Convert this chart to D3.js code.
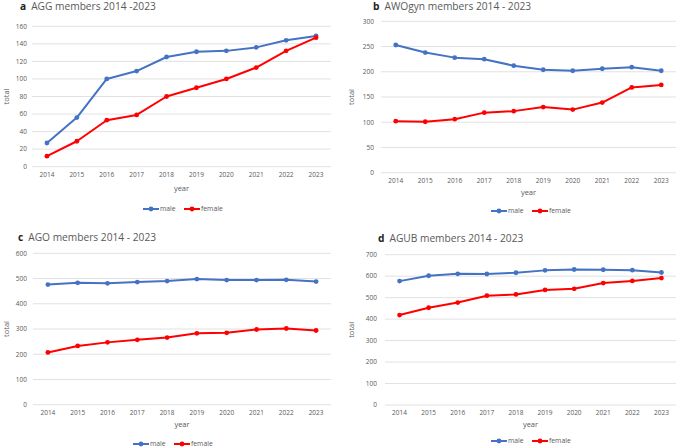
<!DOCTYPE html>
<html><head><meta charset="utf-8">
<script src="https://cdn.jsdelivr.net/npm/d3@7"></script>
<style>
body{margin:0;background:#fff;}
svg text{font-family:"Open Sans","Liberation Sans",sans-serif;}
</style></head>
<body><svg id="c" width="677" height="447"></svg>
<script>
const years = ["2014","2015","2016","2017","2018","2019","2020","2021","2022","2023"];
const seriesNames = ["male","female"];
const colors = ["#4472C4","#FF0000"];

const aggMale   = [27,56,100,109,125,131,132,136,144,149];
const aggFemale = [12,29,53,59,80,90,100,113,132,147];
const awoMale   = [253,238,228,225,212,204,202,206,209,202];
const awoFemale = [102,101,106,119,122,130,125,139,169,174];
const agoMale   = [476,483,481,486,490,498,494,494,495,488];
const agoFemale = [207,233,247,257,266,283,285,298,302,294];
const agubMale  = [577,602,611,610,616,627,631,630,628,617];
const agubFemale= [419,453,477,509,515,536,541,568,578,591];

const titlesLetter = ["a","b","c","d"];
const titlesText = ["AGG members 2014 -2023","AWOgyn members 2014 - 2023","AGO members 2014 - 2023","AGUB members 2014 - 2023"];
const yMax = [160,300,600,700];
const yStep = [20,50,100,100];

const panels = [
  {male:aggMale, female:aggFemale, x0:32, x1:331, yTop:26.3, yBot:166.7, tickX:27, titleX:20, titleY:9.5, totalX:6, yearY:191, legY:209, legX:143},
  {male:awoMale, female:awoFemale, x0:381, x1:676, yTop:21.3, yBot:172.7, tickX:374, titleX:373, titleY:10, totalX:351, yearY:195, legY:211, legX:491},
  {male:agoMale, female:agoFemale, x0:33, x1:331, yTop:253.3, yBot:404.7, tickX:27, titleX:18, titleY:241, totalX:6, yearY:427, legY:444, legX:133},
  {male:agubMale, female:agubFemale, x0:385, x1:676, yTop:254.7, yBot:405, tickX:377, titleX:378, titleY:242, totalX:351, yearY:427, legY:441, legX:491}
];

const svg = d3.select("#c");
panels.forEach((p,i)=>{
  const g = svg.append("g");
  const x = d3.scalePoint().domain(years).range([p.x0,p.x1]).padding(0.5);
  const y = d3.scaleLinear().domain([0,yMax[i]]).range([p.yBot,p.yTop]);
  const ticks = d3.range(0,yMax[i]+1,yStep[i]);
  g.selectAll("line.grid").data(ticks).enter().append("line")
    .attr("x1",p.x0).attr("x2",p.x1).attr("y1",d=>y(d)).attr("y2",d=>y(d))
    .attr("stroke","#d9d9d9").attr("stroke-width",0.8);
  g.selectAll("text.yt").data(ticks).enter().append("text")
    .attr("x",p.tickX).attr("y",d=>y(d)).attr("dy","0.35em").attr("text-anchor","end")
    .attr("font-size",6.5).attr("fill","#595959").text(d=>d);
  g.selectAll("text.xt").data(years).enter().append("text")
    .attr("x",d=>x(d)).attr("y",p.yBot+10).attr("text-anchor","middle")
    .attr("font-size",6.5).attr("fill","#595959").text(d=>d);
  g.append("text").attr("x",(p.x0+p.x1)/2).attr("y",p.yearY).attr("text-anchor","middle")
    .attr("font-size",7.5).attr("fill","#595959").text("year");
  g.append("text").attr("transform",`translate(${p.totalX},${(p.yTop+p.yBot)/2}) rotate(-90)`)
    .attr("dy","0.35em").attr("text-anchor","middle").attr("font-size",7.5).attr("fill","#595959").text("total");
  const t = g.append("text").attr("x",p.titleX).attr("y",p.titleY).attr("font-size",10.2);
  t.append("tspan").attr("font-weight","bold").attr("fill","#222").text(titlesLetter[i]);
  t.append("tspan").attr("dx",5).attr("font-weight","normal").attr("fill","#595959").text(titlesText[i]);
  [p.male,p.female].forEach((vals,k)=>{
    const line = d3.line().x((d,j)=>x(years[j])).y(d=>y(d));
    g.append("path").datum(vals).attr("d",line).attr("fill","none")
      .attr("stroke",colors[k]).attr("stroke-width",2).attr("stroke-linejoin","round");
    g.selectAll(null).data(vals).enter().append("circle")
      .attr("cx",(d,j)=>x(years[j])).attr("cy",d=>y(d)).attr("r",2.4).attr("fill",colors[k]);
  });
  const offs = [0,41];
  seriesNames.forEach((n,k)=>{
    const lx = p.legX + offs[k];
    g.append("line").attr("x1",lx).attr("x2",lx+16).attr("y1",p.legY).attr("y2",p.legY)
      .attr("stroke",colors[k]).attr("stroke-width",2);
    g.append("circle").attr("cx",lx+8).attr("cy",p.legY).attr("r",2.4).attr("fill",colors[k]);
    g.append("text").attr("x",lx+17).attr("y",p.legY).attr("dy","0.35em")
      .attr("font-size",6.8).attr("fill","#595959").text(n);
  });
});
</script></body></html>
